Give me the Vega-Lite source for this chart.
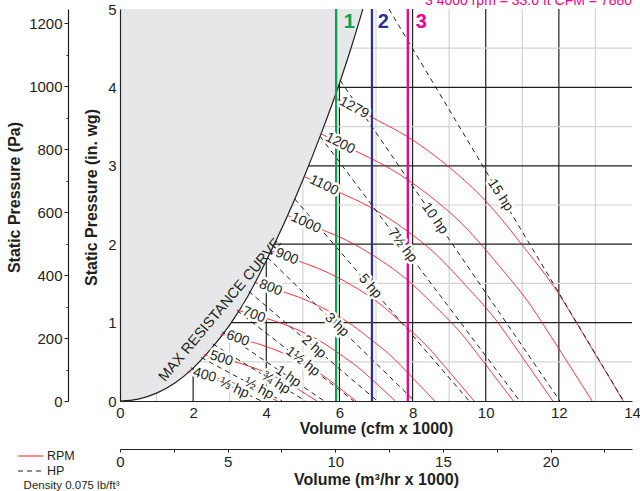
{
  "$schema": "https://vega.github.io/schema/vega-lite/v6.json",
  "width": 512,
  "height": 392,
  "autosize": {"type": "none"},
  "padding": {"left": 120, "top": 9, "right": 8, "bottom": 90},
  "background": "white",
  "config": {"view": {"stroke": null}, "font": "Liberation Sans"},
  "datasets": {
    "gx": [{"v":1},{"v":2},{"v":3},{"v":4},{"v":5},{"v":6},{"v":7},{"v":8},{"v":9},{"v":10},{"v":11},{"v":12},{"v":13}],
    "gy": [{"v":0.5},{"v":1},{"v":1.5},{"v":2},{"v":2.5},{"v":3},{"v":3.5},{"v":4},{"v":4.5}],
    "maxcurve": [{"x":0,"y":0},{"x":0.5,"y":0.025},{"x":1,"y":0.1},{"x":1.5,"y":0.23},{"x":2,"y":0.42},{"x":2.5,"y":0.67},{"x":3,"y":0.97},{"x":3.5,"y":1.34},{"x":4,"y":1.79},{"x":4.5,"y":2.28},{"x":5,"y":2.82},{"x":5.5,"y":3.41},{"x":6,"y":4.05},{"x":6.35,"y":4.55},{"x":6.64,"y":5}],
    "rpm": [
      {"rpm":1279,"kind":"RPM","x":5.86,"y":3.87},{"rpm":1279,"kind":"RPM","x":6.84,"y":3.63},{"rpm":1279,"kind":"RPM","x":7.93,"y":3.35},{"rpm":1279,"kind":"RPM","x":8.98,"y":2.99},{"rpm":1279,"kind":"RPM","x":9.98,"y":2.56},{"rpm":1279,"kind":"RPM","x":11.03,"y":1.97},{"rpm":1279,"kind":"RPM","x":11.99,"y":1.37},{"rpm":1279,"kind":"RPM","x":12.49,"y":0.99},{"rpm":1279,"kind":"RPM","x":13.03,"y":0.57},{"rpm":1279,"kind":"RPM","x":13.76,"y":0},
      {"rpm":1200,"kind":"RPM","x":5.498,"y":3.407},{"rpm":1200,"kind":"RPM","x":6.418,"y":3.195},{"rpm":1200,"kind":"RPM","x":7.44,"y":2.949},{"rpm":1200,"kind":"RPM","x":8.425,"y":2.632},{"rpm":1200,"kind":"RPM","x":9.364,"y":2.254},{"rpm":1200,"kind":"RPM","x":10.349,"y":1.734},{"rpm":1200,"kind":"RPM","x":11.249,"y":1.206},{"rpm":1200,"kind":"RPM","x":11.719,"y":0.871},{"rpm":1200,"kind":"RPM","x":12.225,"y":0.502},{"rpm":1200,"kind":"RPM","x":12.91,"y":0},
      {"rpm":1100,"kind":"RPM","x":5.04,"y":2.863},{"rpm":1100,"kind":"RPM","x":5.883,"y":2.685},{"rpm":1100,"kind":"RPM","x":6.82,"y":2.478},{"rpm":1100,"kind":"RPM","x":7.723,"y":2.212},{"rpm":1100,"kind":"RPM","x":8.583,"y":1.894},{"rpm":1100,"kind":"RPM","x":9.486,"y":1.457},{"rpm":1100,"kind":"RPM","x":10.312,"y":1.013},{"rpm":1100,"kind":"RPM","x":10.742,"y":0.732},{"rpm":1100,"kind":"RPM","x":11.206,"y":0.422},{"rpm":1100,"kind":"RPM","x":11.834,"y":0},
      {"rpm":1000,"kind":"RPM","x":4.582,"y":2.366},{"rpm":1000,"kind":"RPM","x":5.348,"y":2.219},{"rpm":1000,"kind":"RPM","x":6.2,"y":2.048},{"rpm":1000,"kind":"RPM","x":7.021,"y":1.828},{"rpm":1000,"kind":"RPM","x":7.803,"y":1.565},{"rpm":1000,"kind":"RPM","x":8.624,"y":1.204},{"rpm":1000,"kind":"RPM","x":9.375,"y":0.837},{"rpm":1000,"kind":"RPM","x":9.766,"y":0.605},{"rpm":1000,"kind":"RPM","x":10.188,"y":0.348},{"rpm":1000,"kind":"RPM","x":10.758,"y":0},
      {"rpm":900,"kind":"RPM","x":4.124,"y":1.916},{"rpm":900,"kind":"RPM","x":4.813,"y":1.797},{"rpm":900,"kind":"RPM","x":5.58,"y":1.659},{"rpm":900,"kind":"RPM","x":6.319,"y":1.481},{"rpm":900,"kind":"RPM","x":7.023,"y":1.268},{"rpm":900,"kind":"RPM","x":7.761,"y":0.975},{"rpm":900,"kind":"RPM","x":8.437,"y":0.678},{"rpm":900,"kind":"RPM","x":8.789,"y":0.49},{"rpm":900,"kind":"RPM","x":9.169,"y":0.282},{"rpm":900,"kind":"RPM","x":9.683,"y":0},
      {"rpm":800,"kind":"RPM","x":3.665,"y":1.514},{"rpm":800,"kind":"RPM","x":4.278,"y":1.42},{"rpm":800,"kind":"RPM","x":4.96,"y":1.311},{"rpm":800,"kind":"RPM","x":5.617,"y":1.17},{"rpm":800,"kind":"RPM","x":6.242,"y":1.002},{"rpm":800,"kind":"RPM","x":6.899,"y":0.771},{"rpm":800,"kind":"RPM","x":7.5,"y":0.536},{"rpm":800,"kind":"RPM","x":7.812,"y":0.387},{"rpm":800,"kind":"RPM","x":8.15,"y":0.223},{"rpm":800,"kind":"RPM","x":8.607,"y":0},
      {"rpm":700,"kind":"RPM","x":3.207,"y":1.159},{"rpm":700,"kind":"RPM","x":3.744,"y":1.087},{"rpm":700,"kind":"RPM","x":4.34,"y":1.003},{"rpm":700,"kind":"RPM","x":4.915,"y":0.896},{"rpm":700,"kind":"RPM","x":5.462,"y":0.767},{"rpm":700,"kind":"RPM","x":6.037,"y":0.59},{"rpm":700,"kind":"RPM","x":6.562,"y":0.41},{"rpm":700,"kind":"RPM","x":6.836,"y":0.297},{"rpm":700,"kind":"RPM","x":7.131,"y":0.171},{"rpm":700,"kind":"RPM","x":7.531,"y":0},
      {"rpm":600,"kind":"RPM","x":2.749,"y":0.852},{"rpm":600,"kind":"RPM","x":3.209,"y":0.799},{"rpm":600,"kind":"RPM","x":3.72,"y":0.737},{"rpm":600,"kind":"RPM","x":4.213,"y":0.658},{"rpm":600,"kind":"RPM","x":4.682,"y":0.563},{"rpm":600,"kind":"RPM","x":5.174,"y":0.434},{"rpm":600,"kind":"RPM","x":5.625,"y":0.301},{"rpm":600,"kind":"RPM","x":5.859,"y":0.218},{"rpm":600,"kind":"RPM","x":6.113,"y":0.125},{"rpm":600,"kind":"RPM","x":6.455,"y":0},
      {"rpm":500,"kind":"RPM","x":2.291,"y":0.591},{"rpm":500,"kind":"RPM","x":2.674,"y":0.555},{"rpm":500,"kind":"RPM","x":3.1,"y":0.505},{"rpm":500,"kind":"RPM","x":3.511,"y":0.447},{"rpm":500,"kind":"RPM","x":3.901,"y":0.38},{"rpm":500,"kind":"RPM","x":4.312,"y":0.293},{"rpm":500,"kind":"RPM","x":4.687,"y":0.204},{"rpm":500,"kind":"RPM","x":4.883,"y":0.148},{"rpm":500,"kind":"RPM","x":5.094,"y":0.085},{"rpm":500,"kind":"RPM","x":5.379,"y":0},
      {"rpm":400,"kind":"RPM","x":1.85,"y":0.376},{"rpm":400,"kind":"RPM","x":2.139,"y":0.348},{"rpm":400,"kind":"RPM","x":2.48,"y":0.312},{"rpm":400,"kind":"RPM","x":2.808,"y":0.272},{"rpm":400,"kind":"RPM","x":3.121,"y":0.228},{"rpm":400,"kind":"RPM","x":3.45,"y":0.177},{"rpm":400,"kind":"RPM","x":3.75,"y":0.124},{"rpm":400,"kind":"RPM","x":3.906,"y":0.091},{"rpm":400,"kind":"RPM","x":4.075,"y":0.053},{"rpm":400,"kind":"RPM","x":4.303,"y":0}
    ],
    "hp": [
      {"hp":"15","kind":"HP","x":7.353,"y":5},{"hp":"15","kind":"HP","x":13.771,"y":0},
      {"hp":"10","kind":"HP","x":6.02,"y":4.09},{"hp":"10","kind":"HP","x":12.03,"y":0},
      {"hp":"7.5","kind":"HP","x":5.47,"y":3.376},{"hp":"7.5","kind":"HP","x":10.93,"y":0},
      {"hp":"5","kind":"HP","x":4.778,"y":2.577},{"hp":"5","kind":"HP","x":9.548,"y":0},
      {"hp":"3","kind":"HP","x":4.03,"y":1.833},{"hp":"3","kind":"HP","x":8.053,"y":0},
      {"hp":"2","kind":"HP","x":3.52,"y":1.399},{"hp":"2","kind":"HP","x":7.035,"y":0},
      {"hp":"1.5","kind":"HP","x":3.198,"y":1.155},{"hp":"1.5","kind":"HP","x":6.392,"y":0},
      {"hp":"1","kind":"HP","x":2.794,"y":0.881},{"hp":"1","kind":"HP","x":5.584,"y":0},
      {"hp":"0.75","kind":"HP","x":2.539,"y":0.727},{"hp":"0.75","kind":"HP","x":5.073,"y":0},
      {"hp":"0.5","kind":"HP","x":2.218,"y":0.555},{"hp":"0.5","kind":"HP","x":4.432,"y":0},
      {"hp":"0.33","kind":"HP","x":1.937,"y":0.424},{"hp":"0.33","kind":"HP","x":3.871,"y":0}
    ],
    "labels": [
      {"t":"1279","x":6.4,"y":3.74,"a":28},
      {"t":"1200","x":6.02,"y":3.285,"a":27},
      {"t":"1100","x":5.58,"y":2.75,"a":26},
      {"t":"1000","x":5.08,"y":2.27,"a":25},
      {"t":"900","x":4.56,"y":1.841,"a":23},
      {"t":"800","x":4.12,"y":1.444,"a":22},
      {"t":"700","x":3.66,"y":1.098,"a":21},
      {"t":"600","x":3.22,"y":0.798,"a":20},
      {"t":"500","x":2.77,"y":0.543,"a":18},
      {"t":"400","x":2.31,"y":0.33,"a":16},
      {"t":"15 hp","x":10.4,"y":2.626,"a":57},
      {"t":"10 hp","x":8.61,"y":2.327,"a":55},
      {"t":"7½ hp","x":7.72,"y":1.985,"a":53},
      {"t":"5 hp","x":6.84,"y":1.463,"a":49},
      {"t":"3 hp","x":5.93,"y":0.967,"a":44},
      {"t":"2 hp","x":5.3,"y":0.69,"a":41},
      {"t":"1½ hp","x":5.0,"y":0.503,"a":38},
      {"t":"1 hp","x":4.6,"y":0.311,"a":34},
      {"t":"¾ hp","x":4.26,"y":0.233,"a":32},
      {"t":"½ hp","x":3.8,"y":0.158,"a":28},
      {"t":"⅓ hp","x":3.12,"y":0.165,"a":25}
    ],
    "vlines": [
      {"id":"1","x":5.91,"lx":6.27,"ly":4.83},
      {"id":"2","x":6.89,"lx":7.2,"ly":4.83},
      {"id":"3","x":7.87,"lx":8.24,"ly":4.83}
    ]
  },
  "layer": [
    {
      "layer": [
        {
          "data": {"name": "gx"},
          "mark": {"type": "rule", "strokeWidth": 1.2},
          "encoding": {
            "x": {"field": "v", "type": "quantitative", "scale": {"domain": [0, 14], "nice": false, "zero": false},
              "axis": {"values": [0,2,4,6,8,10,12,14], "format": "d", "title": "Volume (cfm x 1000)", "grid": false, "ticks": false, "domainColor": "#231f20", "domainWidth": 1.2, "labelFontSize": 15, "labelPadding": 4, "labelColor": "#231f20", "labelFlush": false, "titleFontSize": 16, "titleFontWeight": "bold", "titleColor": "#231f20", "titlePadding": 0, "zindex": 1}},
            "color": {"condition": {"test": "datum.v % 2 == 0", "value": "#231f20"}, "value": "#d1d3d4"}
          }
        },
        {
          "data": {"name": "gy"},
          "mark": {"type": "rule", "strokeWidth": 1.2},
          "encoding": {
            "y": {"field": "v", "type": "quantitative", "scale": {"domain": [0, 5], "nice": false, "zero": false},
              "axis": {"values": [0,1,2,3,4,5], "format": "d", "title": "Static Pressure (in. wg)", "titleY": 188, "grid": false, "ticks": false, "domainColor": "#231f20", "domainWidth": 1.2, "labelFontSize": 15, "labelPadding": 4, "labelColor": "#231f20", "labelFlush": false, "titleFontSize": 16, "titleFontWeight": "bold", "titleColor": "#231f20", "titlePadding": 8, "zindex": 1}},
            "color": {"condition": {"test": "datum.v % 1 == 0", "value": "#231f20"}, "value": "#d1d3d4"}
          }
        },
        {
          "data": {"name": "maxcurve"},
          "mark": {"type": "area", "color": "#e6e7e8", "interpolate": "monotone"},
          "encoding": {
            "x": {"field": "x", "type": "quantitative"},
            "y": {"field": "y", "type": "quantitative"},
            "y2": {"datum": 5}
          }
        },
        {
          "data": {"name": "maxcurve"},
          "mark": {"type": "line", "color": "#231f20", "strokeWidth": 1.2, "interpolate": "monotone"},
          "encoding": {
            "x": {"field": "x", "type": "quantitative"},
            "y": {"field": "y", "type": "quantitative"}
          }
        },
        {
          "data": {"name": "rpm"},
          "mark": {"type": "line", "strokeWidth": 1, "interpolate": "monotone"},
          "encoding": {
            "x": {"field": "x", "type": "quantitative"},
            "y": {"field": "y", "type": "quantitative"},
            "detail": {"field": "rpm", "type": "nominal"},
            "color": {"field": "kind", "type": "nominal", "scale": {"domain": ["RPM", "HP"], "range": ["#ed1c24", "#231f20"]},
              "legend": {"orient": "none", "legendX": -96.4, "legendY": 440, "title": "Density 0.075 lb/ft³", "titleOrient": "bottom", "titleFontSize": 11.5, "titleFontWeight": "normal", "titleColor": "#231f20", "titlePadding": 2, "labelFontSize": 12.5, "labelColor": "#231f20", "labelOffset": 9.4, "symbolType": "M-2.1,0H2.1", "symbolSize": 144, "symbolStrokeWidth": 1.2, "rowPadding": 1,
                "encode": {"symbols": {"update": {"stroke": {"signal": "datum.value == 'RPM' ? '#ed1c24' : '#231f20'"}}}}}},
            "strokeDash": {"field": "kind", "type": "nominal", "scale": {"domain": ["RPM", "HP"], "range": [[1, 0], [5, 4]]},
              "legend": {"orient": "none", "legendX": -96.4, "legendY": 440, "title": "Density 0.075 lb/ft³", "titleOrient": "bottom", "titleFontSize": 11.5, "titleFontWeight": "normal", "titleColor": "#231f20", "titlePadding": 2, "labelFontSize": 12.5, "labelColor": "#231f20", "labelOffset": 9.4, "symbolType": "M-2.1,0H2.1", "symbolSize": 144, "symbolStrokeWidth": 1.2, "rowPadding": 1,
                "encode": {"symbols": {"update": {"stroke": {"signal": "datum.value == 'RPM' ? '#ed1c24' : '#231f20'"}}}}}}
          }
        },
        {
          "data": {"name": "hp"},
          "mark": {"type": "line", "strokeWidth": 1},
          "encoding": {
            "x": {"field": "x", "type": "quantitative"},
            "y": {"field": "y", "type": "quantitative"},
            "detail": {"field": "hp", "type": "nominal"},
            "color": {"field": "kind", "type": "nominal",
              "legend": {"orient": "none", "legendX": -96.4, "legendY": 440, "title": "Density 0.075 lb/ft³", "titleOrient": "bottom", "titleFontSize": 11.5, "titleFontWeight": "normal", "titleColor": "#231f20", "titlePadding": 2, "labelFontSize": 12.5, "labelColor": "#231f20", "labelOffset": 9.4, "symbolType": "M-2.1,0H2.1", "symbolSize": 144, "symbolStrokeWidth": 1.2, "rowPadding": 1,
                "encode": {"symbols": {"update": {"stroke": {"signal": "datum.value == 'RPM' ? '#ed1c24' : '#231f20'"}}}}}},
            "strokeDash": {"field": "kind", "type": "nominal",
              "legend": {"orient": "none", "legendX": -96.4, "legendY": 440, "title": "Density 0.075 lb/ft³", "titleOrient": "bottom", "titleFontSize": 11.5, "titleFontWeight": "normal", "titleColor": "#231f20", "titlePadding": 2, "labelFontSize": 12.5, "labelColor": "#231f20", "labelOffset": 9.4, "symbolType": "M-2.1,0H2.1", "symbolSize": 144, "symbolStrokeWidth": 1.2, "rowPadding": 1,
                "encode": {"symbols": {"update": {"stroke": {"signal": "datum.value == 'RPM' ? '#ed1c24' : '#231f20'"}}}}}}
          }
        },
        {
          "data": {"name": "vlines"},
          "mark": {"type": "rule", "strokeWidth": 2.3},
          "encoding": {
            "x": {"field": "x", "type": "quantitative"},
            "color": {"condition": [{"test": "datum.id == '1'", "value": "#00a651"}, {"test": "datum.id == '2'", "value": "#2e3192"}], "value": "#ec008c"}
          }
        },
        {
          "mark": {"type": "rule", "color": "#6d6e71", "strokeWidth": 1.2},
          "encoding": {"y": {"datum": 5}}
        },
        {
          "mark": {"type": "rule", "color": "#6d6e71", "strokeWidth": 1.2},
          "encoding": {"x": {"datum": 14}}
        },
        {
          "data": {"values": [{"t": "MAX RESISTANCE CURVE", "x": 2.74, "y": 1.16}]},
          "mark": {"type": "text", "fontSize": 14.5, "angle": -50, "align": "center", "baseline": "middle", "color": "#231f20"},
          "encoding": {
            "x": {"field": "x", "type": "quantitative"},
            "y": {"field": "y", "type": "quantitative"},
            "text": {"field": "t"}
          }
        },
        {
          "data": {"name": "labels"},
          "mark": {"type": "text", "fontSize": 14, "align": "center", "baseline": "middle", "color": "white", "stroke": "white", "strokeWidth": 5, "strokeJoin": "round"},
          "encoding": {
            "x": {"field": "x", "type": "quantitative"},
            "y": {"field": "y", "type": "quantitative"},
            "text": {"field": "t"},
            "angle": {"field": "a", "type": "quantitative", "scale": null}
          }
        },
        {
          "data": {"name": "labels"},
          "mark": {"type": "text", "fontSize": 14, "align": "center", "baseline": "middle", "color": "#231f20"},
          "encoding": {
            "x": {"field": "x", "type": "quantitative"},
            "y": {"field": "y", "type": "quantitative"},
            "text": {"field": "t"},
            "angle": {"field": "a", "type": "quantitative", "scale": null}
          }
        },
        {
          "data": {"name": "vlines"},
          "mark": {"type": "text", "fontSize": 20, "fontWeight": "bold", "align": "center", "baseline": "middle"},
          "encoding": {
            "x": {"field": "lx", "type": "quantitative"},
            "y": {"field": "ly", "type": "quantitative"},
            "text": {"field": "id"},
            "color": {"condition": [{"test": "datum.id == '1'", "value": "#00a651"}, {"test": "datum.id == '2'", "value": "#2e3192"}], "value": "#ec008c"}
          }
        },
        {
          "data": {"values": [{"t": "3 4000 rpm = 33.0 ft  CFM = 7880", "x": 14, "y": 5}]},
          "mark": {"type": "text", "fontSize": 14, "align": "right", "baseline": "alphabetic", "dy": -4, "color": "#ec008c"},
          "encoding": {
            "x": {"field": "x", "type": "quantitative"},
            "y": {"field": "y", "type": "quantitative"},
            "text": {"field": "t"}
          }
        }
      ]
    },
    {
      "data": {"values": [{"p": 0}, {"p": 1245.45}]},
      "mark": {"type": "point", "opacity": 0},
      "encoding": {
        "y": {"field": "p", "type": "quantitative", "scale": {"domain": [0, 1245.45], "nice": false, "zero": false},
          "axis": {"orient": "left", "offset": 52, "values": [0,100,200,300,400,500,600,700,800,900,1000,1100,1200], "format": "d",
            "labelExpr": "datum.value % 200 == 0 ? datum.label : ''",
            "tickSize": {"condition": {"test": "datum.value % 200 == 0", "value": 4}, "value": 2},
            "title": "Static Pressure (Pa)", "titleY": 188, "labelFontSize": 15, "labelPadding": 2, "labelColor": "#231f20", "labelFlush": false,
            "titleFontSize": 16, "titleFontWeight": "bold", "titleColor": "#231f20", "titlePadding": 6,
            "domainColor": "#231f20", "domainWidth": 1.2, "tickColor": "#231f20", "grid": false}}
      }
    },
    {
      "data": {"values": [{"m": 0}, {"m": 23.786}]},
      "mark": {"type": "point", "opacity": 0},
      "encoding": {
        "x": {"field": "m", "type": "quantitative", "scale": {"domain": [0, 23.786], "nice": false, "zero": false},
          "axis": {"orient": "bottom", "offset": 48, "values": [0,2.5,5,7.5,10,12.5,15,17.5,20,22.5],
            "labelExpr": "datum.value % 5 == 0 ? datum.label : ''",
            "tickSize": 3, "title": "Volume (m³/hr x 1000)", "labelFontSize": 15, "labelPadding": 2, "labelColor": "#231f20", "labelFlush": false,
            "titleFontSize": 16, "titleFontWeight": "bold", "titleColor": "#231f20", "titlePadding": 2,
            "domainColor": "#231f20", "domainWidth": 1.2, "tickColor": "#231f20", "grid": false}}
      }
    }
  ],
  "resolve": {"scale": {"x": "independent", "y": "independent"}}
}
